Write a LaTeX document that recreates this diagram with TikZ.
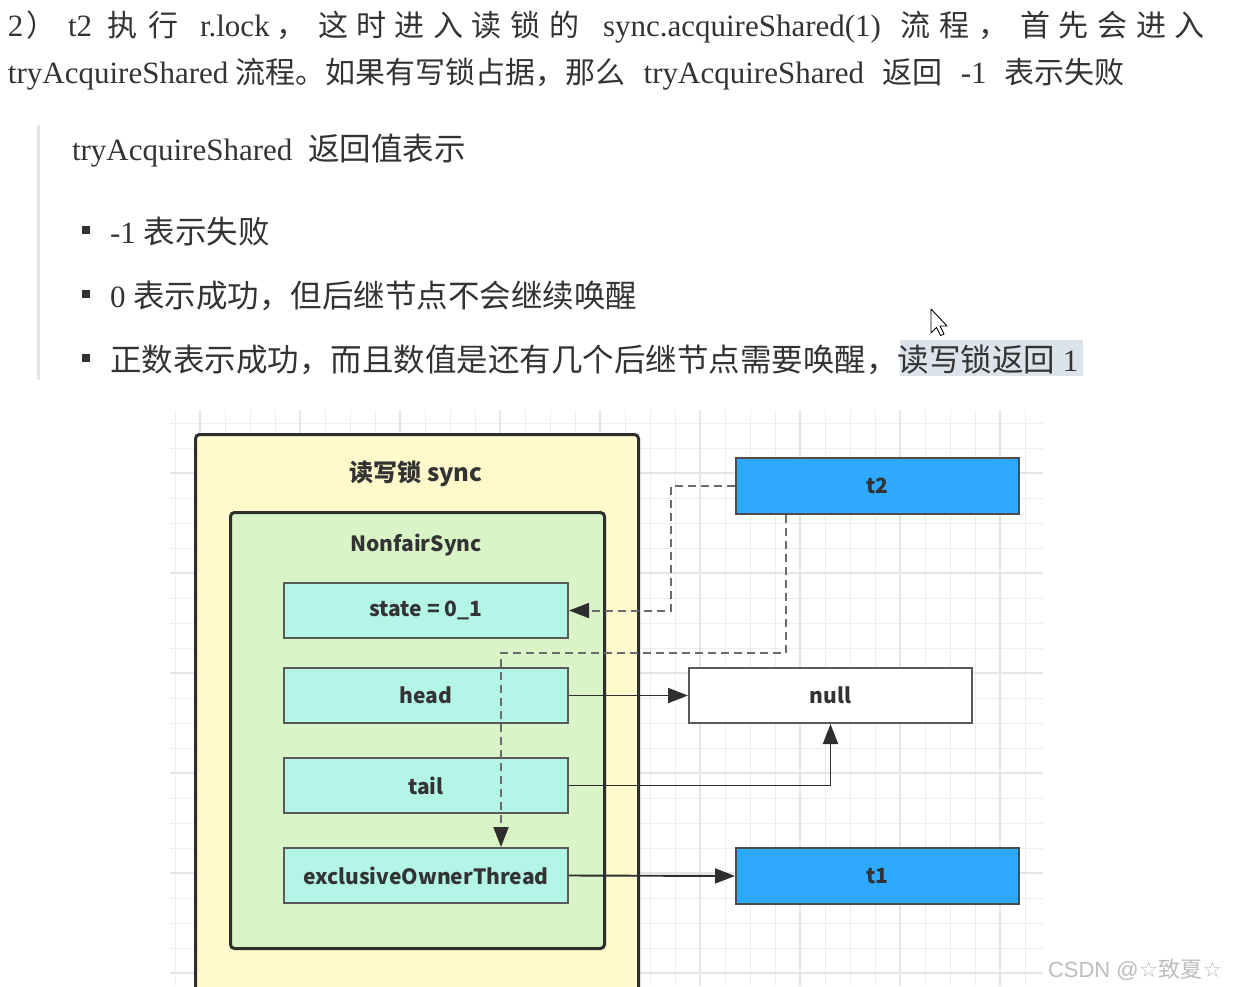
\documentclass[tikz,border=0pt]{standalone}
\usepackage{fontspec}
\setmainfont{Liberation Serif}
\newfontfamily\cjk{Noto Sans CJK SC}
\newfontfamily\dejavu{DejaVu Sans}
\newfontfamily\lsans{Liberation Sans}
\usetikzlibrary{arrows.meta}
\definecolor{txt}{HTML}{333333}
\definecolor{gridc}{HTML}{EDEDED}
\definecolor{gridm}{HTML}{E5E5E5}
\definecolor{yel}{HTML}{FFF9CC}
\definecolor{grn}{HTML}{D9F5C8}
\definecolor{cyn}{HTML}{B3F5E6}
\definecolor{blu}{HTML}{2DA9FF}
\definecolor{dk}{HTML}{2E2E2E}
\definecolor{hl}{HTML}{DDE3EA}
\definecolor{wm}{HTML}{BDBDBD}
\newcommand\pl{\fontsize{31}{36}\selectfont}
\newcommand\pc{\cjk\fontsize{30}{36}\selectfont}
\newcommand\ql{\fontsize{31}{36}\selectfont}
\newcommand\qc{\cjk\fontsize{31.5}{36}\selectfont}
\newcommand\dg{\cjk\bfseries\fontsize{21}{25}\selectfont}
\newcommand\dgt{\cjk\bfseries\fontsize{24}{28}\selectfont}
\tikzset{
  tx/.style={anchor=base west, inner sep=0, outer sep=0, text=txt},
  outerbox/.style={draw=dk, line width=3pt, rounded corners=4pt, anchor=north west, inner sep=0},
  field/.style={draw=black!65, line width=2pt, fill=cyn, anchor=north west, inner sep=0, minimum width=284pt, minimum height=55pt, text=txt, font=\dg},
  thr/.style={draw=black!70, line width=2pt, fill=blu, anchor=north west, inner sep=0, minimum width=283pt, minimum height=56pt, text=txt, font=\dg},
  conn/.style={draw=dk, line width=1.9pt, -{Triangle[length=20pt,width=15pt]}},
  dconn/.style={draw=black!58, line width=2pt, dash pattern=on 8pt off 5pt, -{Triangle[length=20pt,width=15pt,color=dk]}},
  bul/.style={fill=txt, minimum size=8pt, inner sep=0}
}
\begin{document}
\begin{tikzpicture}[x=1pt,y=-1pt]
\useasboundingbox[fill=white] (0,0) rectangle (1234,986);
% ---------- paragraph line 1
\node[tx] (p1a) at (8,36) {\pl 2};
\node[tx] (p1b) at (26,36) {\pc ）};
\node[tx] (p1c) at (68,36) {\pl t2};
\node[tx] (p1d) at (107,36) {\pc 执};
\node[tx] (p1e) at (148,36) {\pc 行};
\node[tx] (p1f) at (200,36) {\pl r.lock};
\node[tx] (p1g) at (276,36) {\pc ，};
\node[tx] (p1h) at (318,36) {\pc 这\hspace{8.5pt}时\hspace{8.5pt}进\hspace{8.5pt}入\hspace{8.5pt}读\hspace{8.5pt}锁\hspace{8.5pt}的};
\node[tx] (p1i) at (603,36) {\pl sync.acquireShared(1)};
\node[tx] (p1j) at (900,36) {\pc 流\hspace{9pt}程\hspace{9pt}，};
\node[tx] (p1k) at (1020,36) {\pc 首\hspace{8.7pt}先\hspace{8.7pt}会\hspace{8.7pt}进\hspace{8.7pt}入};
% ---------- paragraph line 2
\node[tx] (p2) at (8,83) {\makebox[1117pt][s]{\pl tryAcquireShared\hspace{7pt}{\pc 流程。如果有写锁占据，那么} tryAcquireShared {\pc 返回} -1 {\pc 表示失败}}};
% ---------- quote block
\fill[black!10] (37,125) rectangle (40,380);
\node[tx] (q0) at (72,160) {\ql tryAcquireShared\hspace{16pt}{\qc 返回值表示}};
\node[bul] (b1) at (86,230) {};
\node[bul] (b2) at (86,294) {};
\node[bul] (b3) at (86,358) {};
\fill[hl] (900,340) rectangle (1083,376);
\node[tx] (q1) at (110,243) {\ql -1 {\qc 表示失败}};
\node[tx] (q2) at (110,307) {\ql 0 {\qc 表示成功，但后继节点不会继续唤醒}};
\node[tx] (q3) at (110,371) {\ql {\qc 正数表示成功，而且数值是还有几个后继节点需要唤醒，读写锁返回} 1};
% mouse cursor
\draw[black, line width=0.9pt, fill=white, line join=round] (931,309) -- (931,333) -- (936.5,327.5) -- (940.5,335.5) -- (944,334) -- (940,326) -- (947,326) -- cycle;
% ---------- grid
\foreach \x in {175,200,...,1025} {\draw[gridc, line width=1pt] (\x,410) -- (\x,986);}
\foreach \y in {423,448,...,973} {\draw[gridc, line width=1pt] (170,\y) -- (1043,\y);}
\foreach \x in {200,300,...,1000} {\draw[gridm, line width=1.2pt] (\x,410) -- (\x,986);}
\foreach \y in {473,573,...,973} {\draw[gridm, line width=1.2pt] (170,\y) -- (1043,\y);}
% ---------- containers
\node[outerbox, fill=yel, minimum width=443pt, minimum height=570pt] (rw) at (194,433) {};
\node[text=txt, font=\dgt] (rwt) at (416,474) {读写锁 sync};
\node[outerbox, fill=grn, minimum width=374pt, minimum height=436pt] (nfs) at (229,511) {};
\node[text=txt, font=\dg] (nfst) at (416,545) {NonfairSync};
% ---------- fields
\node[field] (state) at (283,582) {state = 0\_1};
\node[field] (head) at (283,667) {head};
\node[field] (tail) at (283,757) {tail};
\node[field] (eot) at (283,847) {exclusiveOwnerThread};
% ---------- threads
\node[thr] (t2) at (735,457) {t2};
\node[field, fill=white, minimum width=283pt] (null) at (688,667) {null};
\node[thr] (t1) at (735,847) {t1};
% ---------- connectors
\draw[conn] (head.east) -- (null.west);
\draw[conn] (tail.east) -| (null.south);
\draw[conn] (eot.east) -- (t1.west);
\draw[dconn] (t2.west) -- ++(-64,0) |- (state.east);
\draw[dconn] ([xshift=-91.5pt]t2.south) -- ++(0,138) -| ([xshift=75pt]eot.north);
% ---------- watermark
\node[tx, text=wm] (wmk) at (1048,977) {\lsans\fontsize{22}{26}\selectfont CSDN @{\dejavu ☆}{\cjk 致夏}{\dejavu ☆}};
\end{tikzpicture}
\end{document}
